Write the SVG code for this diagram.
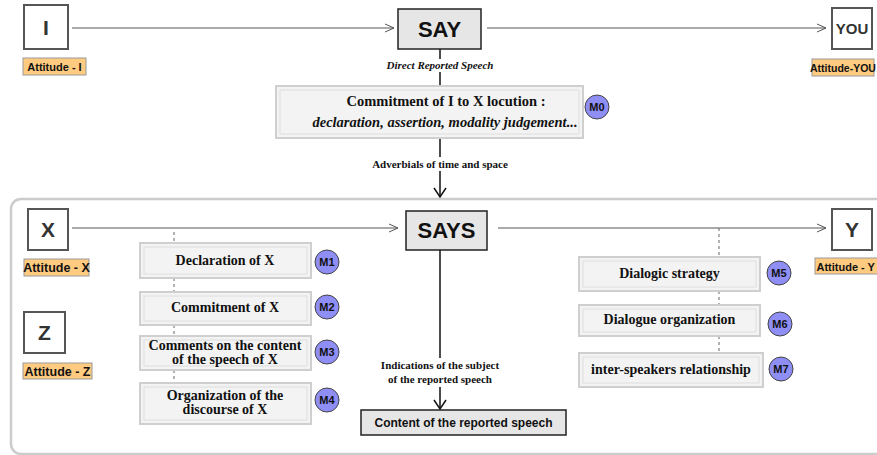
<svg xmlns="http://www.w3.org/2000/svg" width="877" height="455" viewBox="0 0 877 455">
<defs>
<marker id="open" markerWidth="12" markerHeight="12" refX="10" refY="5" orient="auto" markerUnits="userSpaceOnUse"><path d="M1,1 L10,5 L1,9" fill="none" stroke="#555" stroke-width="1"/></marker>
<marker id="down" markerWidth="14" markerHeight="14" refX="7" refY="12" orient="0" markerUnits="userSpaceOnUse"><path d="M1,3 L7,12 L13,3" fill="none" stroke="#111" stroke-width="1.5"/></marker>
<style>
.ent{fill:#fff;stroke:#555;stroke-width:2}
.entt{font-family:"Liberation Sans",Arial,sans-serif;font-weight:bold;font-size:21px;fill:#333;text-anchor:middle}
.att{fill:#fecb80;stroke:#999;stroke-width:1}
.attt{font-family:"Liberation Sans",Arial,sans-serif;font-weight:bold;font-size:11px;fill:#111;text-anchor:middle}
.verb{fill:#e6e6e6;stroke:#222;stroke-width:1.5}
.verbt{font-family:"Liberation Sans",Arial,sans-serif;font-weight:bold;font-size:22px;fill:#111;text-anchor:middle}
.mod{fill:#f3f3f3;stroke:#cfcfcf;stroke-width:2}
.modi{fill:none;stroke:#dedede;stroke-width:1}
.modt{font-family:"Liberation Serif","Times New Roman",serif;font-weight:bold;font-size:14px;fill:#111;text-anchor:middle}
.circ{fill:#8e8ef5;stroke:#444;stroke-width:1}
.circt{font-family:"Liberation Sans",Arial,sans-serif;font-weight:bold;font-size:11px;fill:#111;text-anchor:middle}
.lbl{font-family:"Liberation Serif","Times New Roman",serif;font-weight:bold;font-size:11px;fill:#111;text-anchor:middle}
.ln{stroke:#555;stroke-width:1;fill:none}
.vl{stroke:#111;stroke-width:1.5;fill:none}
.dash{stroke:#666;stroke-width:1;stroke-dasharray:3,3;fill:none}
</style>
</defs>
<rect x="11" y="199" width="880" height="255" rx="10" fill="#fff" stroke="#cccccc" stroke-width="2.5"/>
<g id="connectors">
<line class="ln" x1="72" y1="28" x2="394" y2="28" marker-end="url(#open)"/>
<line class="ln" x1="487" y1="28" x2="826" y2="28" marker-end="url(#open)"/>
<line class="vl" x1="440" y1="49" x2="440" y2="59"/>
<line class="vl" x1="440" y1="72" x2="440" y2="86"/>
<line class="vl" x1="440" y1="138" x2="440" y2="157"/>
<line class="vl" x1="440" y1="171" x2="440" y2="197" marker-end="url(#down)"/>
<line class="ln" x1="72" y1="228" x2="398" y2="228" marker-end="url(#open)"/>
<line class="ln" x1="498" y1="228" x2="826" y2="228" marker-end="url(#open)"/>
<line class="vl" x1="440" y1="250" x2="440" y2="358"/>
<line class="vl" x1="440" y1="387" x2="440" y2="409" marker-end="url(#down)"/>
<line class="dash" x1="174" y1="232" x2="174" y2="243"/>
<line class="dash" x1="174" y1="278" x2="174" y2="292"/>
<line class="dash" x1="174" y1="325" x2="174" y2="336"/>
<line class="dash" x1="174" y1="370" x2="174" y2="383"/>
<line class="dash" x1="719" y1="228" x2="719" y2="257"/>
<line class="dash" x1="719" y1="291" x2="719" y2="305"/>
<line class="dash" x1="719" y1="336" x2="719" y2="353"/>
<text class="lbl" x="440" y="69" style="font-style:italic">Direct Reported Speech</text>
<text class="lbl" x="440" y="168">Adverbials of time and space</text>
<text class="lbl" x="440" y="369">Indications of the subject</text>
<text class="lbl" x="440" y="383">of the reported speech</text>
</g>
<g id="I"><rect class="ent" x="24" y="5" width="44" height="44"/><text class="entt" x="46" y="35">I</text></g>
<g id="attI"><rect class="att" x="23" y="58" width="63" height="17"/><text class="attt" x="54.5" y="70.5">Attitude - I</text></g>
<g id="SAY"><rect class="verb" x="398" y="9" width="83" height="40"/><text class="verbt" x="439.5" y="37">SAY</text></g>
<g id="YOU"><rect class="ent" x="832" y="8" width="40" height="41"/><text class="entt" x="852" y="34" style="font-size:15px">YOU</text></g>
<g id="attYOU"><rect class="att" x="812" y="59" width="62" height="17"/><text class="attt" x="843" y="71.5" style="font-size:10.5px">Attitude-YOU</text></g>
<g id="M0box"><rect class="mod" x="276" y="86" width="307" height="52"/><rect class="modi" x="280" y="90" width="299" height="44"/>
<text class="modt" x="446" y="106" style="font-size:14.5px">Commitment of I to X locution  :</text>
<text class="modt" x="445" y="127" style="font-style:italic;font-size:14.5px">declaration, assertion, modality judgement...</text></g>
<g id="M0"><circle class="circ" cx="597" cy="107" r="12"/><text class="circt" x="597" y="111">M0</text></g>
<g id="X"><rect class="ent" x="28" y="209" width="40" height="41"/><text class="entt" x="48" y="237">X</text></g>
<g id="attX"><rect class="att" x="24" y="259" width="65" height="17"/><text class="attt" x="56.5" y="272" style="font-size:12.5px">Attitude - X</text></g>
<g id="Z"><rect class="ent" x="24" y="312" width="41" height="41"/><text class="entt" x="44.5" y="340">Z</text></g>
<g id="attZ"><rect class="att" x="23" y="363" width="69" height="16"/><text class="attt" x="57.5" y="375.5" style="font-size:12.5px">Attitude - Z</text></g>
<g id="SAYS"><rect class="verb" x="406" y="211" width="81" height="39"/><text class="verbt" x="446.5" y="238">SAYS</text></g>
<g id="Y"><rect class="ent" x="832" y="209" width="40" height="41"/><text class="entt" x="852" y="237">Y</text></g>
<g id="attY"><rect class="att" x="815" y="258" width="70" height="16"/><text class="attt" x="816.5" y="270.5" style="font-size:11px;text-anchor:start">Attitude - Y</text></g>
<g id="decl"><rect class="mod" x="140" y="243" width="171" height="35"/><rect class="modi" x="144" y="247" width="163" height="27"/><text class="modt" x="225" y="265">Declaration of X</text></g>
<g id="M1"><circle class="circ" cx="327" cy="262" r="12"/><text class="circt" x="327" y="266">M1</text></g>
<g id="commit"><rect class="mod" x="140" y="292" width="171" height="33"/><rect class="modi" x="144" y="296" width="163" height="25"/><text class="modt" x="225" y="312">Commitment of X</text></g>
<g id="M2"><circle class="circ" cx="327" cy="307" r="12"/><text class="circt" x="327" y="311">M2</text></g>
<g id="comments"><rect class="mod" x="140" y="336" width="171" height="34"/><rect class="modi" x="144" y="340" width="163" height="26"/><text class="modt" x="225" y="350">Comments on the content</text><text class="modt" x="225" y="364">of the speech of X</text></g>
<g id="M3"><circle class="circ" cx="327" cy="352" r="12"/><text class="circt" x="327" y="356">M3</text></g>
<g id="orga"><rect class="mod" x="140" y="383" width="171" height="41"/><rect class="modi" x="144" y="387" width="163" height="33"/><text class="modt" x="225" y="400">Organization of the</text><text class="modt" x="225" y="414">discourse of X</text></g>
<g id="M4"><circle class="circ" cx="327" cy="400" r="12"/><text class="circt" x="327" y="404">M4</text></g>
<g id="content"><rect class="verb" x="361" y="410" width="205" height="25"/><text class="verbt" x="463.5" y="427" style="font-size:12px">Content of the reported speech</text></g>
<g id="strategy"><rect class="mod" x="579" y="257" width="181" height="34"/><rect class="modi" x="583" y="261" width="173" height="26"/><text class="modt" x="669.5" y="278">Dialogic strategy</text></g>
<g id="M5"><circle class="circ" cx="779" cy="273" r="12"/><text class="circt" x="779" y="277">M5</text></g>
<g id="dorg"><rect class="mod" x="579" y="305" width="181" height="31"/><rect class="modi" x="583" y="309" width="173" height="23"/><text class="modt" x="669.5" y="324">Dialogue organization</text></g>
<g id="M6"><circle class="circ" cx="780" cy="324" r="12"/><text class="circt" x="780" y="328">M6</text></g>
<g id="inter"><rect class="mod" x="579" y="353" width="184" height="34"/><rect class="modi" x="583" y="357" width="176" height="26"/><text class="modt" x="671" y="374">inter-speakers relationship</text></g>
<g id="M7"><circle class="circ" cx="781" cy="369" r="12"/><text class="circt" x="781" y="373">M7</text></g>
</svg>
